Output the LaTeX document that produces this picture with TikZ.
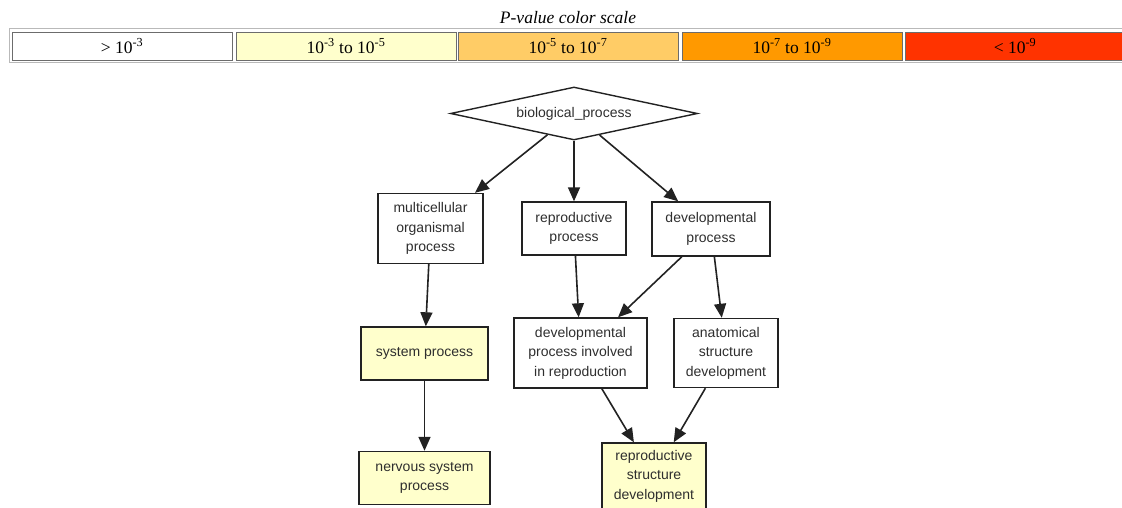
\documentclass[tikz,border=0pt]{standalone}
\usepackage{fontspec}
\setmainfont{Liberation Serif}
\setsansfont{Liberation Sans}
\usetikzlibrary{shapes.geometric,arrows.meta}

\definecolor{pvnone}{HTML}{FFFFFF}
\definecolor{pvlow}{HTML}{FFFFCC}
\definecolor{pvmid}{HTML}{FFCC66}
\definecolor{pvhigh}{HTML}{FF9900}
\definecolor{pvtop}{HTML}{FF3300}
\definecolor{goline}{HTML}{222222}
\definecolor{gotext}{HTML}{2E2E2E}

\tikzset{
  gobox/.style={draw=goline, line width=1.4pt, rectangle, align=center, inner sep=2pt,
    text=gotext, font=\sffamily\fontsize{14}{19.5}\selectfont},
  hitbox/.style={gobox, fill=pvlow},
  goedge/.style={->, draw=goline, line width=1.6pt},
  scalecell/.style={draw=gray!85!black, line width=0.8pt, inner sep=0pt, minimum height=28pt,
    font=\fontsize{17.5}{18}\selectfont},
}

\begin{document}
\begin{tikzpicture}[x=1pt, y=-1pt, >={Triangle[length=14pt,width=12pt]}]
    \useasboundingbox (0,0) rectangle (1122,508);

    \node[font=\itshape\fontsize{17.5}{18}\selectfont] (title) at (568,18) {P-value color scale};
    \draw[gray!55, line width=1pt] (9,28.5) rectangle (1140,63);

    \foreach \xa/\xb/\col/\lab [count=\i] in {
        12/232/pvnone/{> 10\textsuperscript{-3}},
        236/456/pvlow/{10\textsuperscript{-3} to 10\textsuperscript{-5}},
        458/678/pvmid/{10\textsuperscript{-5} to 10\textsuperscript{-7}},
        682/902/pvhigh/{10\textsuperscript{-7} to 10\textsuperscript{-9}},
        905/1125/pvtop/{< 10\textsuperscript{-9}}} {
        \pgfmathsetmacro\cw{\xb-\xa}
        \pgfmathsetmacro\cx{(\xa+\xb)/2}
        \node[scalecell, fill=\col, minimum width=\cw pt] (cell\i) at (\cx,46) {\lab};
    }

    \node[diamond, draw=goline, line width=1.4pt, aspect=4.66, minimum width=247pt,
          minimum height=53pt, inner sep=0pt, text=gotext,
          font=\sffamily\fontsize{14}{19.5}\selectfont] (bp) at (574,113.5) {biological\_process};

    \node[gobox, minimum width=105pt, minimum height=70pt] (mop) at (430.5,228.5) {multicellular\\organismal\\process};
    \node[gobox, minimum width=104pt, minimum height=53pt] (rp) at (574,228.5) {reproductive\\process};
    \node[gobox, minimum width=118pt, minimum height=54pt] (dp) at (711,229) {developmental\\process};

    \node[hitbox, minimum width=127pt, minimum height=53pt] (sp) at (424.5,353.5) {system process};
    \node[gobox, minimum width=133pt, minimum height=70pt] (dpir) at (580.5,353) {developmental\\process involved\\in reproduction};
    \node[gobox, minimum width=104pt, minimum height=69pt] (asd) at (726,353) {anatomical\\structure\\development};

    \node[hitbox, minimum width=131pt, minimum height=53pt] (nsp) at (424.5,478) {nervous system\\process};
    \node[hitbox, minimum width=104pt, minimum height=66pt] (rsd) at (654,476) {reproductive\\structure\\development};

    \draw[goedge] (bp) -- (mop);
    \draw[goedge] (bp) -- (rp);
    \draw[goedge] (bp) -- (dp);
    \draw[goedge] (mop) -- (sp);
    \draw[goedge] (rp) -- (dpir);
    \draw[goedge] (dp) -- (dpir);
    \draw[goedge] (dp) -- (asd);
    \draw[goedge] (sp) -- (nsp);
    \draw[goedge] (dpir) -- (rsd);
    \draw[goedge] (asd) -- (rsd);
\end{tikzpicture}
\end{document}
